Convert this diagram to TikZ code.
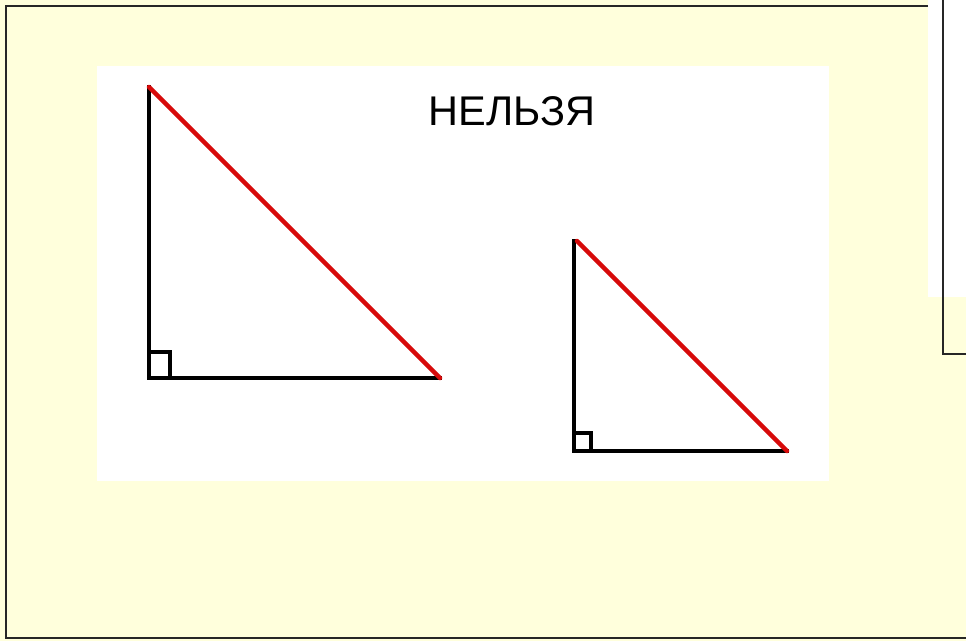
\documentclass[tikz,border=0pt]{standalone}
\usepackage{fontspec}
\setmainfont{Liberation Sans}
\definecolor{bgyellow}{RGB}{255,255,220}
\definecolor{hypred}{RGB}{215,10,10}
\begin{document}
\begin{tikzpicture}[x=1pt,y=-1pt,
  leg/.style={line width=4.5pt,black},
  hyp/.style={line width=4.5pt,hypred},
  rightsq/.style={line width=3.8pt,black},
  frameline/.style={line width=2.5pt,black!85}]
\useasboundingbox (0,0) rectangle (966,641);
% background
\fill[bgyellow] (0,0) rectangle (966,641);
% top-right white panel
\fill[white] (928,0) rectangle (966,297);
% outer frame
\coordinate (f1) at (928,6);
\coordinate (f2) at (6,6);
\coordinate (f3) at (6,638);
\coordinate (f4) at (966,638);
\draw[frameline] (f1) -- (f2) -- (f3) -- (f4);
% panel outline
\coordinate (p1) at (943,0);
\coordinate (p2) at (943,354);
\coordinate (p3) at (966,354);
\draw[frameline] (p1) -- (p2) -- (p3);
% white image area
\fill[white] (97,66) rectangle (829,481);
% label
\node[font=\fontsize{41.5}{41.5}\selectfont, inner sep=0pt, anchor=base] (lbl) at (512,125) {НЕЛЬЗЯ};
% left triangle
\coordinate (A1) at (149,87);
\coordinate (B1) at (149,378);
\coordinate (C1) at (440,378);
\draw[leg,line cap=rect] (A1) -- (B1) -- (C1);
\draw[hyp,line cap=round] (A1) -- (C1);
\draw[rightsq] (B1) rectangle ++(21,-26);
% right triangle
\coordinate (A2) at (574,241);
\coordinate (B2) at (574,451);
\coordinate (C2) at (787,451);
\draw[leg,line cap=rect] (A2) -- (B2) -- (C2);
\draw[hyp,line cap=round] ([xshift=3pt]A2) -- (C2);
\draw[rightsq] (B2) rectangle ++(17,-18);
\end{tikzpicture}
\end{document}
